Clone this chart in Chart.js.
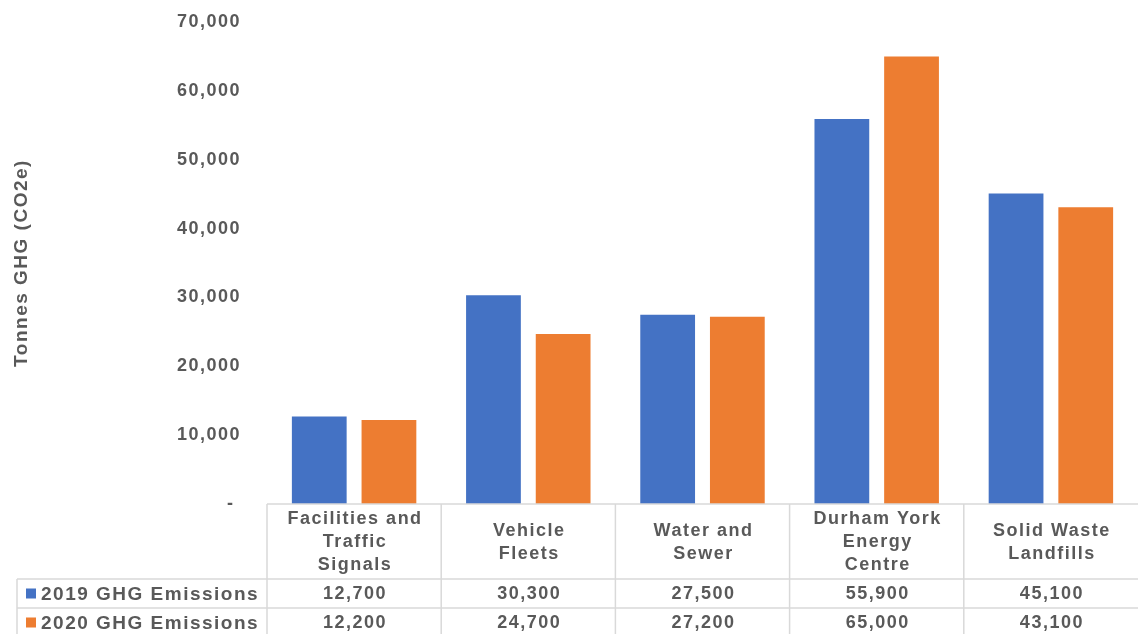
<!DOCTYPE html>
<html>
<head>
<meta charset="utf-8">
<script src="https://cdn.jsdelivr.net/npm/chart.js@4/dist/chart.umd.min.js"></script>
<style>
  html, body { margin: 0; padding: 0; background: #ffffff; }
  #wrap { width: 1138px; height: 634px; }
</style>
</head>
<body>
<div id="wrap"><canvas id="ghg" width="1138" height="634"></canvas></div>
<script>
// Emission sources (multi-line labels as shown in the table header)
const categories = [
  ['Facilities and', 'Traffic', 'Signals'],
  ['Vehicle', 'Fleets'],
  ['Water and', 'Sewer'],
  ['Durham York', 'Energy', 'Centre'],
  ['Solid Waste', 'Landfills']
];
const seriesNames = ['2019 GHG Emissions', '2020 GHG Emissions'];
const emissions2019 = [12700, 30300, 27500, 55900, 45100];
const emissions2020 = [12200, 24700, 27200, 65000, 43100];
const yTicks = [0, 10000, 20000, 30000, 40000, 50000, 60000, 70000];

const BLUE = '#4472C4';
const ORANGE = '#ED7D31';
const TEXT = '#595959';
const RULE = '#d9d9d9';
const FONT = "'Liberation Sans', Arial, sans-serif";
const SPACING = '1.5px';

const fmt = v => v.toLocaleString('en-US');

// Spaced-out text rendering for every label the chart draws
const spacingPlugin = {
  id: 'spacing',
  beforeUpdate(chart) { chart.ctx.letterSpacing = SPACING; },
  beforeLayout(chart) { chart.ctx.letterSpacing = SPACING; },
  beforeDraw(chart) { chart.ctx.letterSpacing = SPACING; }
};

// Data table under the plot: category header row and one row per series
const dataTable = {
  id: 'dataTable',
  afterDraw(chart) {
    const { ctx, chartArea } = chart;
    const x = chart.scales.x;
    const n = categories.length;
    const half = (x.getPixelForValue(1) - x.getPixelForValue(0)) / 2;
    const top = chartArea.bottom;
    const headerBottom = top + 75;
    const rowH = 29;
    const rows = [emissions2019, emissions2020];
    const colors = [BLUE, ORANGE];
    const tableLeft = 17;
    const right = chart.width + 6;
    const bottom = chart.height + 10;

    ctx.save();
    ctx.letterSpacing = SPACING;
    ctx.strokeStyle = RULE;
    ctx.lineWidth = 1.5;

    // horizontal rules
    ctx.beginPath();
    ctx.moveTo(x.getPixelForValue(0) - half, top);
    ctx.lineTo(right, top);
    for (let r = 0; r < rows.length; r++) {
      const y = headerBottom + r * rowH;
      ctx.moveTo(tableLeft, y);
      ctx.lineTo(right, y);
    }
    // vertical rules
    ctx.moveTo(tableLeft, headerBottom);
    ctx.lineTo(tableLeft, bottom);
    for (let i = 0; i < n; i++) {
      const bx = x.getPixelForValue(i) - half;
      ctx.moveTo(bx, top);
      ctx.lineTo(bx, bottom);
    }
    ctx.stroke();

    ctx.fillStyle = TEXT;
    ctx.font = 'bold 18px ' + FONT;
    ctx.textBaseline = 'middle';
    ctx.textAlign = 'center';

    // header labels
    const lineH = 23;
    const headMid = (top + headerBottom) / 2;
    categories.forEach((lines, i) => {
      const cx = x.getPixelForValue(i) + 1;
      const y0 = headMid - (lines.length - 1) * lineH / 2;
      lines.forEach((t, k) => ctx.fillText(t, cx, y0 + k * lineH + 1));
    });

    // series rows
    rows.forEach((vals, r) => {
      const cy = headerBottom + r * rowH + rowH / 2;
      ctx.fillStyle = colors[r];
      ctx.fillRect(26, cy - 5, 10, 10);
      ctx.fillStyle = TEXT;
      ctx.textAlign = 'left';
      ctx.font = 'bold 19px ' + FONT;
      ctx.fillText(seriesNames[r], 41, cy + 1);
      ctx.font = 'bold 18px ' + FONT;
      ctx.textAlign = 'center';
      vals.forEach((v, i) => ctx.fillText(fmt(v), x.getPixelForValue(i) + 1, cy + 1));
    });
    ctx.restore();
  }
};

new Chart(document.getElementById('ghg'), {
  type: 'bar',
  data: {
    labels: categories,
    datasets: [
      { label: seriesNames[0], data: emissions2019, backgroundColor: BLUE },
      { label: seriesNames[1], data: emissions2020, backgroundColor: ORANGE }
    ]
  },
  options: {
    responsive: false,
    animation: false,
    devicePixelRatio: 1,
    layout: { padding: { top: 22, right: 0, bottom: 130, left: 0 } },
    categoryPercentage: 0.8,
    barPercentage: 0.786,
    plugins: {
      legend: { display: false },
      tooltip: { enabled: false }
    },
    scales: {
      x: { display: false },
      y: {
        min: 0,
        max: 70000,
        afterFit(scale) {
          scale.width = 267;
          scale.paddingTop = 0;
          scale.paddingBottom = 0;
        },
        afterBuildTicks(scale) { scale.ticks = yTicks.map(v => ({ value: v })); },
        grid: { display: false, drawTicks: false },
        border: { display: false },
        ticks: {
          padding: 26,
          color: TEXT,
          font: { family: FONT, size: 18, weight: 'bold' },
          callback: v => (v === 0 ? '- ' : fmt(v))
        },
        title: {
          display: true,
          text: 'Tonnes GHG (CO2e)',
          color: TEXT,
          font: { family: FONT, size: 19, weight: 'bold' },
          padding: { top: 10, bottom: 0 }
        }
      }
    }
  },
  plugins: [spacingPlugin, dataTable]
});
</script>
</body>
</html>
